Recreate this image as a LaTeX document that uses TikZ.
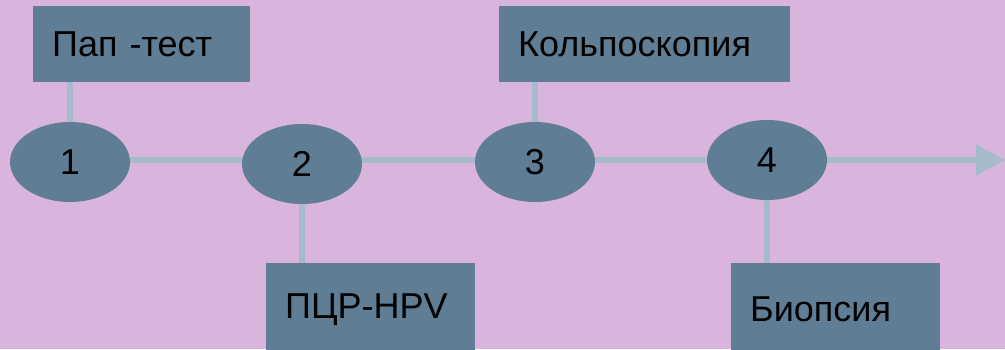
\documentclass[tikz,border=0pt]{standalone}
\usepackage{fontspec}
\setmainfont{Liberation Sans}
\usetikzlibrary{shapes.geometric,arrows.meta,backgrounds}
\definecolor{bgc}{RGB}{217,181,222}
\definecolor{boxc}{RGB}{95,126,150}
\definecolor{linec}{RGB}{166,186,201}
\tikzset{
  stage/.style={ellipse,fill=boxc,draw=none,minimum width=120pt,minimum height=80pt,inner sep=0pt,
    font=\fontsize{36}{42}\selectfont},
  labelbox/.style={rectangle,fill=boxc,draw=none,inner xsep=19pt,inner ysep=0pt,align=left,
    font=\fontsize{36}{42}\selectfont,anchor=north west},
  conn/.style={draw=linec,line width=6pt},
}
\begin{document}
\begin{tikzpicture}[x=1pt,y=-1pt]
\useasboundingbox (0,0) rectangle (1005,349);
\clip (0,0) rectangle (1005,349);
\node[stage] (e1) at (70,162) {1};
\node[stage] (e2) at (302,164) {2};
\node[stage] (e3) at (535,162) {3};
\node[stage] (e4) at (767,160) {4};
\node[labelbox,text width=179pt,minimum height=76pt] (b1) at (33,6) {Пап -тест};
\node[labelbox,text width=253pt,minimum height=76pt] (b3) at (499,6) {Кольпоскопия};
\node[labelbox,text width=171pt,minimum height=92pt] (b2) at (266,263) {ПЦР-HPV};
\node[labelbox,text width=171pt,minimum height=92pt] (b4) at (731,263) {Биопсия};
\coordinate (arrend) at (1005,160);
\begin{pgfonlayer}{background}
\fill[bgc] (0,0) rectangle (1005,349);
\draw[conn] (e1 |- arrend) -- (e2 |- arrend);
\draw[conn] (e2 |- arrend) -- (e3 |- arrend);
\draw[conn] (e3 |- arrend) -- (e4 |- arrend);
\draw[conn] (e1.north) -- (e1.north |- b1.south);
\draw[conn] (e3.north) -- (e3.north |- b3.south);
\draw[conn] (e2.south) -- (e2.south |- b2.north);
\draw[conn] (e4.south) -- (e4.south |- b4.north);
\end{pgfonlayer}
\draw[conn,-{Triangle[length=29pt,width=30pt]}] (e4.east) -- (arrend);
\end{tikzpicture}
\end{document}
